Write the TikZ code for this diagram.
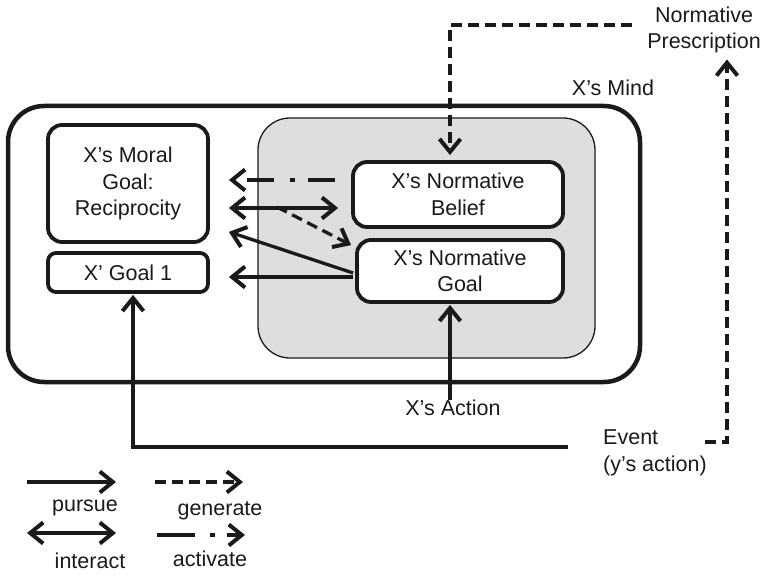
\documentclass[tikz,border=0pt]{standalone}
\usepackage{fontspec}
\setmainfont{Liberation Sans}
\usetikzlibrary{arrows.meta,calc}
\definecolor{ink}{HTML}{1A1A1A}
\definecolor{shade}{HTML}{DEDEDE}
\begin{document}
\begin{tikzpicture}[x=1pt,y=-1pt,
  font=\fontsize{21.5}{26.5}\selectfont, text=ink,
  box/.style={draw=ink, line width=3.8pt, rounded corners=14pt, fill=white, align=center, inner sep=0pt},
  lbl/.style={align=center, inner sep=0pt},
  head/.tip={Straight Barb[length=13pt,width=21pt,line width=4pt]},
  tip/.style={-head},
  btip/.style={head-head},
  pursue/.style={tip, draw=ink, line width=3.3pt},
  interact/.style={btip, draw=ink, line width=3.3pt},
  generate/.style={tip, draw=ink, line width=3.3pt, dash pattern=on 11pt off 6pt},
  activate/.style={tip, draw=ink, line width=3.3pt, dash pattern=on 27pt off 13pt on 5pt off 16pt},
  ]
\useasboundingbox (0,0) rectangle (768,577);
% containers
\node[draw=ink, line width=4.5pt, rounded corners=36pt, minimum width=632pt, minimum height=276pt, inner sep=0pt] (mind) at (324,244) {};
\node[draw=ink, line width=1.3pt, fill=shade, rounded corners=32pt, minimum width=337pt, minimum height=240pt, inner sep=0pt] (inner) at (426.5,238) {};
\node[lbl] (mindlbl) at (613,88) {X’s Mind};
% boxes
\node[box, minimum width=160pt, minimum height=117pt] (moral) at (128,183.5) {X’s Moral\\Goal:\\Reciprocity};
\node[box, rounded corners=8pt, minimum width=160pt, minimum height=39pt] (goal1) at (128,272.5) {X’ Goal 1};
\node[box, minimum width=210pt, minimum height=65pt] (belief) at (458,194.5) {X’s Normative\\Belief};
\node[box, minimum width=206pt, minimum height=62pt] (ngoal) at (460,271) {X’s Normative\\Goal};
% texts
\node[lbl] (action) at (453,408) {X’s Action};
\node[lbl, align=left, anchor=west] (event) at (603,453) {Event\\(y’s action)};
\node[lbl] (presc) at (704,30) {Normative\\Prescription};
% internal connectors
\draw[activate] ([xshift=-16pt,yshift=14.5pt]belief.west) -- ([xshift=19pt,yshift=3.5pt]moral.east);
\draw[interact] ([xshift=19pt,yshift=-24.5pt]moral.east) coordinate (ia) -- ([xshift=-13pt,yshift=-13.5pt]belief.west);
\coordinate (g0) at (277,207);
\draw[generate] (g0) -- ([xshift=-4pt,yshift=-7pt]ngoal.north west);
\draw[pursue] ([xshift=-2pt,yshift=-2pt]ngoal.west) -- ([xshift=19pt,yshift=12pt]moral.south east);
\draw[pursue] ([xshift=-2pt,yshift=-6pt]ngoal.west) -- ([xshift=19pt,yshift=-4.5pt]goal1.east);
% external connectors
\coordinate (p0) at (632,25);
\draw[generate] (p0) -| ([xshift=-8pt,yshift=5pt]belief.north);
\draw[pursue] ([xshift=-3pt]action.north) -- ([xshift=-10pt,yshift=-1pt]ngoal.south);
\coordinate (e0) at (568,447);
\draw[pursue] (e0) -| ([xshift=5pt,yshift=-1pt]goal1.south);
\coordinate (e1) at (705,442);
\draw[generate] (e1) -| ([xshift=23pt,yshift=-6pt]presc.south);
% legend
\coordinate (l1a) at (27,482); \coordinate (l1b) at (116,482);
\coordinate (l2a) at (27,533); \coordinate (l2b) at (116,533);
\coordinate (l3a) at (155,482); \coordinate (l3b) at (243,482);
\coordinate (l4a) at (157,535); \coordinate (l4b) at (245,535);
\draw[pursue] (l1a) -- (l1b);
\draw[interact] (l2a) -- (l2b);
\draw[generate] (l3a) -- (l3b);
\draw[activate, dash pattern=on 38pt off 15pt on 5pt off 12pt] (l4a) -- (l4b);
\node[lbl] (tpursue) at (85,508) {pursue};
\node[lbl] (tinteract) at (90,561) {interact};
\node[lbl] (tgenerate) at (220,511) {generate};
\node[lbl] (tactivate) at (210,559) {activate};
\end{tikzpicture}
\end{document}
